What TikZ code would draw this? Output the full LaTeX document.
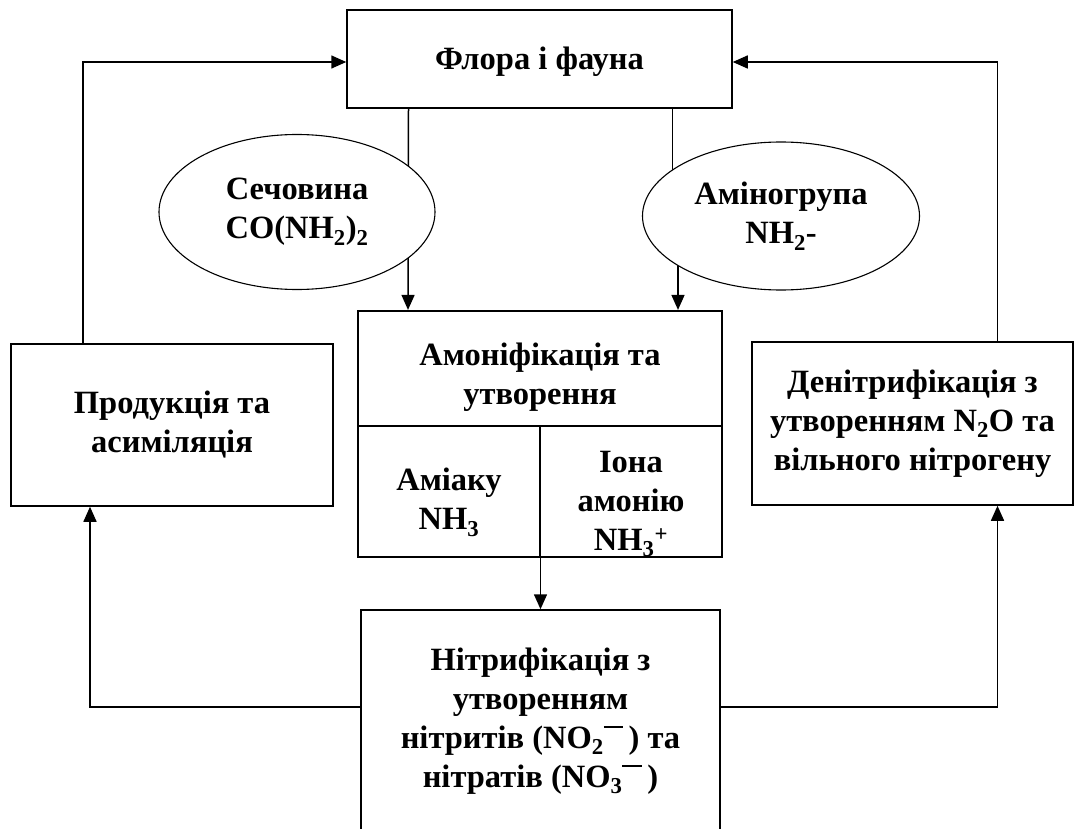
\documentclass[tikz,border=0pt]{standalone}
\usepackage{fontspec}
\setmainfont{Liberation Serif}
\usetikzlibrary{shapes,arrows.meta}
\newcommand{\topbar}{\raisebox{0.62em}{\rule{0.6em}{0.07em}}}
\newcommand{\pushdown}[1]{\rule{0pt}{#1}}

\begin{document}
\begin{tikzpicture}[x=1pt, y=-1pt,
    font=\fontsize{32.5}{39}\selectfont\bfseries,
    box/.style={rectangle, draw, line width=1.5pt, align=center, inner sep=0pt},
    cell/.style={box, line width=2.2pt},
    oval/.style={ellipse, draw, fill=white, line width=1.1pt, align=center, inner sep=0pt},
    arr/.style={line width=1.5pt, -{Triangle[length=15pt, width=13pt]}}]
    \clip (0,0) rectangle (1084,829);

    \node [box, minimum width=385pt, minimum height=98pt] (flora) at (539.5, 59) {\pushdown{28pt}Флора і фауна};
    \node [box, minimum width=322pt, minimum height=162pt] (produce) at (172, 425) {Продукція та\\асиміляція};
    \node [box, minimum width=321pt, minimum height=163pt] (denitr) at (912.5, 423.5) {Денітрифікація з\\утворенням N\textsubscript{2}O та\\вільного нітрогену};
    \node [cell, minimum width=364pt, minimum height=115pt] (amon) at (540, 368.5) {\pushdown{40pt}Амоніфікація та\\утворення};
    \node [cell, minimum width=182pt, minimum height=131pt] (ammonia) at (449, 491.5) {\pushdown{44pt}Аміаку\\NH\textsubscript{3}};
    \node [cell, minimum width=182pt, minimum height=131pt] (ammonium) at (631, 491.5) {\pushdown{46pt}Іона\\амонію\\NH\textsubscript{3}\textsuperscript{+}};
    \node [box, minimum width=359pt, minimum height=222pt] (nitrif) at (540.5, 721) {Нітрифікація з\\утворенням\\нітритів (NO\textsubscript{2}\topbar\,) та\\нітратів (NO\textsubscript{3}\topbar\,)};

    \draw [arr] ([xshift=-131pt]flora.south) -- ([xshift=-132pt]amon.north);
    \draw [arr] ([xshift=133pt]flora.south) -- ++(0,100) -| ([xshift=138pt]amon.north);
    \draw [arr] (ammonia.south -| nitrif.north) -- (nitrif.north);
    \draw [arr] ([xshift=-89pt]produce.north) |- ([yshift=-3pt]flora.west);
    \draw [arr] ([xshift=85pt]denitr.north) |- ([yshift=-3pt]flora.east);
    \draw [arr] ([yshift=14pt]nitrif.west) -| ([xshift=-82pt]produce.south);
    \draw [arr] ([yshift=14pt]nitrif.east) -| ([xshift=85pt]denitr.south);

    \node [oval, minimum width=276pt, minimum height=155pt] (urea) at (297, 212) {Сечовина\\CO(NH\textsubscript{2})\textsubscript{2}};
    \node [oval, minimum width=277pt, minimum height=148pt] (amino) at (781, 216) {Аміногрупа\\NH\textsubscript{2}-};
  \end{tikzpicture}
\end{document}
